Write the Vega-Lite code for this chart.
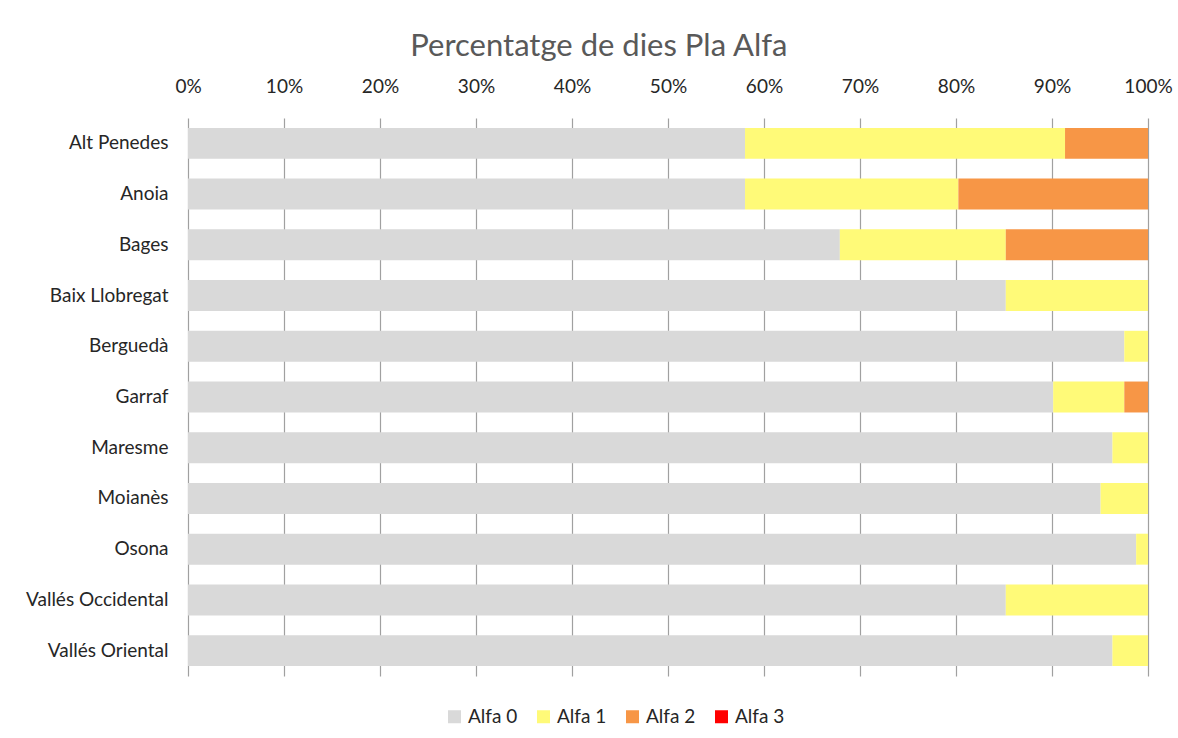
{
  "$schema": "https://vega.github.io/schema/vega-lite/v6.json",
  "width": 960,
  "height": 558,
  "padding": {"left": 25, "top": 31, "right": 8, "bottom": 10},
  "background": "white",
  "title": {
    "text": "Percentatge de dies Pla Alfa",
    "frame": "bounds",
    "anchor": "middle",
    "font": "Lato",
    "fontSize": 31,
    "fontWeight": "normal",
    "color": "#595959",
    "offset": 14
  },
  "data": {
    "values": [
      {"comarca": "Alt Penedes", "nivell": "Alfa 0", "dies": 47},
      {"comarca": "Alt Penedes", "nivell": "Alfa 1", "dies": 27},
      {"comarca": "Alt Penedes", "nivell": "Alfa 2", "dies": 7},
      {"comarca": "Alt Penedes", "nivell": "Alfa 3", "dies": 0},
      {"comarca": "Anoia", "nivell": "Alfa 0", "dies": 47},
      {"comarca": "Anoia", "nivell": "Alfa 1", "dies": 18},
      {"comarca": "Anoia", "nivell": "Alfa 2", "dies": 16},
      {"comarca": "Anoia", "nivell": "Alfa 3", "dies": 0},
      {"comarca": "Bages", "nivell": "Alfa 0", "dies": 55},
      {"comarca": "Bages", "nivell": "Alfa 1", "dies": 14},
      {"comarca": "Bages", "nivell": "Alfa 2", "dies": 12},
      {"comarca": "Bages", "nivell": "Alfa 3", "dies": 0},
      {"comarca": "Baix Llobregat", "nivell": "Alfa 0", "dies": 69},
      {"comarca": "Baix Llobregat", "nivell": "Alfa 1", "dies": 12},
      {"comarca": "Baix Llobregat", "nivell": "Alfa 2", "dies": 0},
      {"comarca": "Baix Llobregat", "nivell": "Alfa 3", "dies": 0},
      {"comarca": "Berguedà", "nivell": "Alfa 0", "dies": 79},
      {"comarca": "Berguedà", "nivell": "Alfa 1", "dies": 2},
      {"comarca": "Berguedà", "nivell": "Alfa 2", "dies": 0},
      {"comarca": "Berguedà", "nivell": "Alfa 3", "dies": 0},
      {"comarca": "Garraf", "nivell": "Alfa 0", "dies": 73},
      {"comarca": "Garraf", "nivell": "Alfa 1", "dies": 6},
      {"comarca": "Garraf", "nivell": "Alfa 2", "dies": 2},
      {"comarca": "Garraf", "nivell": "Alfa 3", "dies": 0},
      {"comarca": "Maresme", "nivell": "Alfa 0", "dies": 78},
      {"comarca": "Maresme", "nivell": "Alfa 1", "dies": 3},
      {"comarca": "Maresme", "nivell": "Alfa 2", "dies": 0},
      {"comarca": "Maresme", "nivell": "Alfa 3", "dies": 0},
      {"comarca": "Moianès", "nivell": "Alfa 0", "dies": 77},
      {"comarca": "Moianès", "nivell": "Alfa 1", "dies": 4},
      {"comarca": "Moianès", "nivell": "Alfa 2", "dies": 0},
      {"comarca": "Moianès", "nivell": "Alfa 3", "dies": 0},
      {"comarca": "Osona", "nivell": "Alfa 0", "dies": 80},
      {"comarca": "Osona", "nivell": "Alfa 1", "dies": 1},
      {"comarca": "Osona", "nivell": "Alfa 2", "dies": 0},
      {"comarca": "Osona", "nivell": "Alfa 3", "dies": 0},
      {"comarca": "Vallés Occidental", "nivell": "Alfa 0", "dies": 69},
      {"comarca": "Vallés Occidental", "nivell": "Alfa 1", "dies": 12},
      {"comarca": "Vallés Occidental", "nivell": "Alfa 2", "dies": 0},
      {"comarca": "Vallés Occidental", "nivell": "Alfa 3", "dies": 0},
      {"comarca": "Vallés Oriental", "nivell": "Alfa 0", "dies": 78},
      {"comarca": "Vallés Oriental", "nivell": "Alfa 1", "dies": 3},
      {"comarca": "Vallés Oriental", "nivell": "Alfa 2", "dies": 0},
      {"comarca": "Vallés Oriental", "nivell": "Alfa 3", "dies": 0}
    ]
  },
  "mark": {"type": "bar"},
  "encoding": {
    "y": {
      "field": "comarca",
      "type": "nominal",
      "sort": null,
      "scale": {"paddingInner": 0.39, "paddingOuter": 0.195},
      "axis": {
        "title": null,
        "domain": false,
        "ticks": false,
        "labelPadding": 20,
        "labelFont": "Lato",
        "labelFontSize": 19,
        "labelColor": "#262626"
      }
    },
    "x": {
      "field": "dies",
      "type": "quantitative",
      "stack": "normalize",
      "scale": {"domain": [0, 1], "nice": false},
      "axis": {
        "orient": "top",
        "title": null,
        "format": ".0%",
        "values": [0, 0.1, 0.2, 0.3, 0.4, 0.5, 0.6, 0.7, 0.8, 0.9, 1],
        "labelFlush": false,
        "labelOverlap": false,
        "domain": false,
        "ticks": false,
        "grid": true,
        "gridColor": "#A0A0A0",
        "gridWidth": 1.2,
        "labelPadding": 22,
        "labelFont": "Lato",
        "labelFontSize": 19,
        "labelColor": "#262626"
      }
    },
    "color": {
      "field": "nivell",
      "type": "nominal",
      "scale": {
        "domain": ["Alfa 0", "Alfa 1", "Alfa 2", "Alfa 3"],
        "range": ["#D9D9D9", "#FFFA78", "#F79646", "#FF0000"]
      },
      "legend": {
        "title": null,
        "orient": "none",
        "direction": "horizontal",
        "legendX": 257,
        "legendY": 589,
        "symbolType": "square",
        "symbolSize": 169,
        "symbolStrokeWidth": 0,
        "labelFont": "Lato",
        "labelFontSize": 19,
        "labelColor": "#262626",
        "columnPadding": 16,
        "labelOffset": 4
      }
    },
    "order": {"field": "nivell", "sort": "ascending"}
  },
  "config": {
    "view": {"stroke": null},
    "axis": {"gridOpacity": 1}
  }
}
